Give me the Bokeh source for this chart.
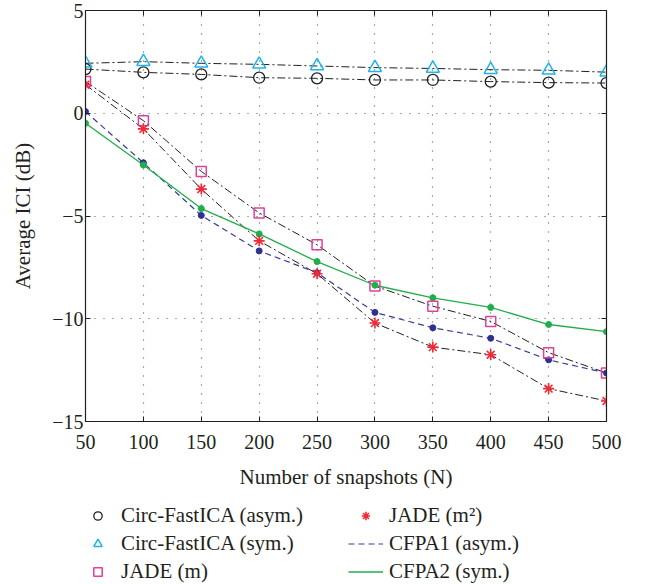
from bokeh.plotting import figure
from bokeh.layouts import column
from bokeh.models import (Legend, LegendItem, LinearAxis, Range1d, FixedTicker,
                          CustomJSTickFormatter)
from bokeh.embed import file_html
from bokeh.resources import INLINE

# ---- data ----
N = [50, 100, 150, 200, 250, 300, 350, 400, 450, 500]
circ_asym = [2.15, 1.99, 1.89, 1.73, 1.70, 1.62, 1.62, 1.54, 1.49, 1.47]
circ_sym = [2.43, 2.51, 2.43, 2.38, 2.30, 2.22, 2.18, 2.12, 2.09, 2.00]
jade_m = [1.54, -0.36, -2.83, -4.85, -6.40, -8.41, -9.39, -10.13, -11.65, -12.64]
jade_m2 = [1.39, -0.76, -3.69, -6.21, -7.81, -10.21, -11.38, -11.75, -13.40, -14.00]
cfpa1 = [0.08, -2.41, -4.97, -6.70, -7.76, -9.69, -10.44, -10.95, -12.00, -12.64]
cfpa2 = [-0.49, -2.52, -4.64, -5.87, -7.22, -8.37, -8.98, -9.45, -10.28, -10.63]

x_ticks = [50, 100, 150, 200, 250, 300, 350, 400, 450, 500]
y_ticks = [-15, -10, -5, 0, 5]

labels = ["Circ-FastICA (asym.)", "Circ-FastICA (sym.)", "JADE (m)",
          "JADE (m\u00b2)", "CFPA1 (asym.)", "CFPA2 (sym.)"]

FONT = "Liberation Serif"
TXT = "#231f20"
TICK_FS = "20px"
LAB_FS = "21px"

C_BLACK = "#231f20"
C_CYAN = "#1eb4ea"
C_MAG = "#e0409a"
C_RED = "#ee2a36"
C_BLUE = "#2e3192"
C_GREEN = "#1fae4b"

ST_C1 = dict(line_color="#3a3c9c", line_dash="6 4", line_width=1.2)
ST_C2 = dict(line_color=C_GREEN, line_width=1.3)

p = figure(width=633, height=491, output_backend="svg", toolbar_location=None,
           x_range=Range1d(50, 500), y_range=Range1d(-15, 5),
           min_border_left=85, min_border_right=27, min_border_top=10,
           min_border_bottom=2)
p.outline_line_color = C_BLACK
p.outline_line_width = 1.2
p.background_fill_color = "white"
p.border_fill_color = "white"

fmt = CustomJSTickFormatter(code="return tick < 0 ? '\u2212' + Math.abs(tick) : '' + tick;")

for ax in p.xaxis:
    ax.ticker = FixedTicker(ticks=x_ticks)
for ax in p.yaxis:
    ax.ticker = FixedTicker(ticks=y_ticks)
    ax.formatter = fmt

for ax in list(p.xaxis) + list(p.yaxis):
    ax.major_tick_in = 5
    ax.major_tick_out = 0
    ax.minor_tick_in = 0
    ax.minor_tick_out = 0
    ax.axis_line_color = C_BLACK
    ax.major_tick_line_color = C_BLACK
    ax.major_label_text_font = FONT
    ax.major_label_text_font_size = TICK_FS
    ax.major_label_text_color = TXT
    ax.axis_label_text_font = FONT
    ax.axis_label_text_font_size = LAB_FS
    ax.axis_label_text_font_style = "normal"
    ax.axis_label_text_color = TXT

p.xaxis.axis_label = "Number of snapshots (N)"
p.yaxis.axis_label = "Average ICI (dB)"
p.xaxis.major_label_standoff = 13
p.yaxis.major_label_standoff = 2
p.xaxis.axis_label_standoff = 13
p.yaxis.axis_label_standoff = 14

# right/top ticks (box)
blank = CustomJSTickFormatter(code="return '';")
for loc, fixed in (("right", y_ticks), ("above", x_ticks)):
    a = LinearAxis(ticker=FixedTicker(ticks=fixed), formatter=blank,
                   major_tick_in=5, major_tick_out=0,
                   minor_tick_in=0, minor_tick_out=0, major_label_text_font_size="1px",
                   major_label_standoff=0, axis_line_color=C_BLACK,
                   major_tick_line_color=C_BLACK)
    p.add_layout(a, loc)

p.xgrid.ticker = FixedTicker(ticks=x_ticks)
p.ygrid.ticker = FixedTicker(ticks=y_ticks)
for g in (p.xgrid, p.ygrid):
    g.grid_line_color = "#555555"
    g.grid_line_dash = "1 8"
    g.grid_line_width = 1.2

DD = "8 3 2 3"
p.line(N, circ_sym, line_color=C_BLACK, line_dash=DD, line_width=1)
p.line(N, circ_asym, line_color=C_BLACK, line_dash=DD, line_width=1)
p.line(N, jade_m, line_color=C_BLACK, line_dash=DD, line_width=1)
p.line(N, jade_m2, line_color=C_BLACK, line_dash=DD, line_width=1)
p.line(N, cfpa1, **ST_C1)
p.line(N, cfpa2, **ST_C2)

p.scatter(N, cfpa1, marker="circle", size=6, fill_color=C_BLUE, line_color=C_BLUE)
p.scatter(N, cfpa2, marker="circle", size=6, fill_color=C_GREEN, line_color=C_GREEN)
p.scatter(N, circ_asym, marker="circle", size=11, fill_color=None, line_color=C_BLACK, line_width=1.3)
p.scatter(N, circ_sym, marker="triangle", size=13, fill_color=None, line_color=C_CYAN, line_width=1.5)
p.scatter(N, jade_m, marker="square", size=10, fill_color=None, line_color=C_MAG, line_width=1.5)
p.scatter(N, jade_m2, marker="asterisk", size=11, line_color=C_RED, line_width=1.6)

# ---- legend panel (separate figure below the plot; its renderers lie outside its view) ----
q = figure(width=633, height=93, output_backend="svg", toolbar_location=None,
           x_range=Range1d(0, 1), y_range=Range1d(0, 1),
           x_axis_type=None, y_axis_type=None,
           min_border_left=0, min_border_right=0, min_border_top=0, min_border_bottom=0)
q.grid.visible = False
q.outline_line_color = None
q.background_fill_color = "white"
q.border_fill_color = "white"

r_ca = q.scatter(N, circ_asym, marker="circle", size=9, fill_color=None, line_color=C_BLACK, line_width=1.3)
r_cs = q.scatter(N, circ_sym, marker="triangle", size=15, fill_color=None, line_color=C_CYAN, line_width=1.5)
r_jm = q.scatter(N, jade_m, marker="square", size=8, fill_color=None, line_color=C_MAG, line_width=1.5)
r_jm2 = q.scatter(N, jade_m2, marker="asterisk", size=9, line_color=C_RED, line_width=1.6)
r_c1 = q.line(N, cfpa1, **ST_C1)
r_c2 = q.line(N, cfpa2, **ST_C2)

items = [LegendItem(label=lab, renderers=[r])
         for lab, r in zip(labels, [r_ca, r_cs, r_jm, r_jm2, r_c1, r_c2])]

lg = Legend(items=items, location=(-5, 0), orientation="vertical", nrows=3,
            glyph_width=35, glyph_height=21, label_standoff=6, spacing=3,
            label_width=224, padding=0, margin=0, border_line_color=None,
            background_fill_alpha=0, label_text_font=FONT,
            label_text_font_size=LAB_FS, label_text_color=TXT, label_height=21)
q.add_layout(lg, "center")

layout = column(p, q, spacing=0)
open("out.html", "w").write(file_html(layout, INLINE))
